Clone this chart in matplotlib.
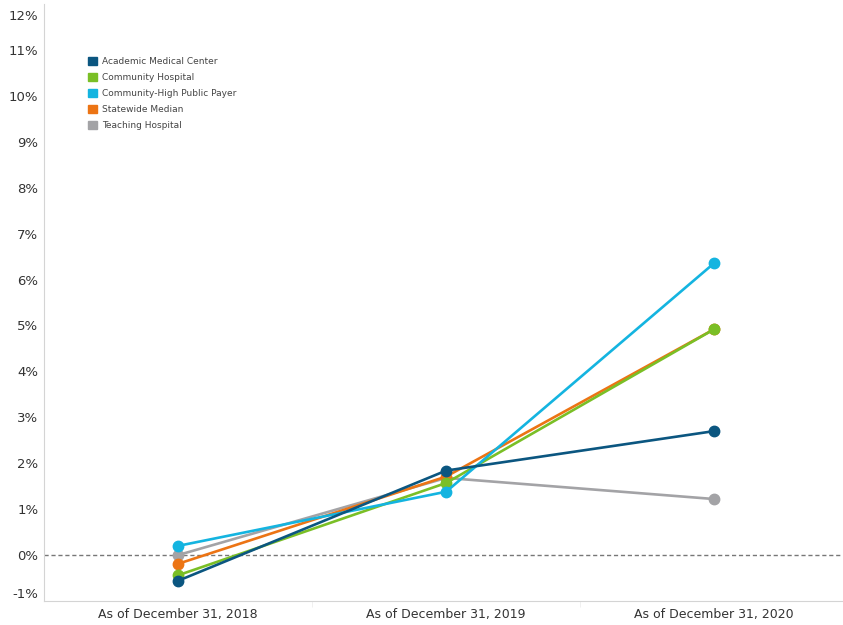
import matplotlib
matplotlib.use("Agg")
from matplotlib import pyplot as plt
from matplotlib.patches import Patch
from matplotlib.ticker import FuncFormatter
from matplotlib.transforms import ScaledTranslation

periods = ["As of December 31, 2018", "As of December 31, 2019", "As of December 31, 2020"]
series_names = [
    "Academic Medical Center",
    "Community Hospital",
    "Community-High Public Payer",
    "Statewide Median",
    "Teaching Hospital",
]
academic = [-0.56, 1.84, 2.70]
community = [-0.44, 1.57, 4.92]
high_public = [0.20, 1.38, 6.36]
statewide = [-0.19, 1.71, 4.92]
teaching = [0.00, 1.68, 1.22]
y_ticks = list(range(-1, 13))

colors = ["#0b5680", "#7abf26", "#14b4e0", "#ec7414", "#a3a3a6"]
values = [academic, community, high_public, statewide, teaching]
# draw order: teaching at the back, academic on top
draw_order = [4, 3, 1, 2, 0]

fig = plt.figure(figsize=(8.43, 6.25), dpi=100)
ax = fig.add_axes([44 / 843, 1 - 601 / 625, 1 - 44 / 843, (601 - 4) / 625])

x = list(range(len(periods)))
for z, i in enumerate(draw_order):
    ax.plot(x, values[i], color=colors[i], lw=1.9, marker="o", ms=7.5,
            solid_capstyle="round", zorder=3 + z)

ax.axhline(0, color="#777777", lw=1.0, ls=(0, (3, 2)), zorder=2)

ax.set_xlim(-0.5, 2.48)
ax.set_ylim(-1, 12)
ax.set_xticks(x)
ax.set_xticklabels(periods, fontsize=9, color="#333333")
ax.set_xticks([0.5, 1.5], minor=True)
ax.tick_params(axis="x", which="major", length=0, pad=5)
ax.tick_params(axis="x", which="minor", length=4, color="#eeeeee")
ax.set_yticks(y_ticks)
ax.yaxis.set_major_formatter(FuncFormatter(lambda v, p: f"{v:.0f}%"))
ax.tick_params(axis="y", length=0, labelsize=9.5, labelcolor="#333333", pad=4)
labels = ax.get_yticklabels()
labels[0].set_verticalalignment("bottom")
labels[-1].set_verticalalignment("top")
labels[-1].set_transform(labels[-1].get_transform()
                         + ScaledTranslation(0, -4 / 72, fig.dpi_scale_trans))

for side in ["top", "right"]:
    ax.spines[side].set_visible(False)
ax.spines["left"].set_color("#d4d4d4")
ax.spines["bottom"].set_color("#d4d4d4")

handles = [Patch(facecolor=c, edgecolor=c) for c in colors]
leg = ax.legend(handles, series_names, loc="upper left", bbox_to_anchor=(0.045, 0.925),
                frameon=False, fontsize=6.5, handlelength=1.0, handleheight=1.0,
                handletextpad=0.5, labelspacing=0.75, labelcolor="#444444")

fig.savefig("out.png", dpi=100)
